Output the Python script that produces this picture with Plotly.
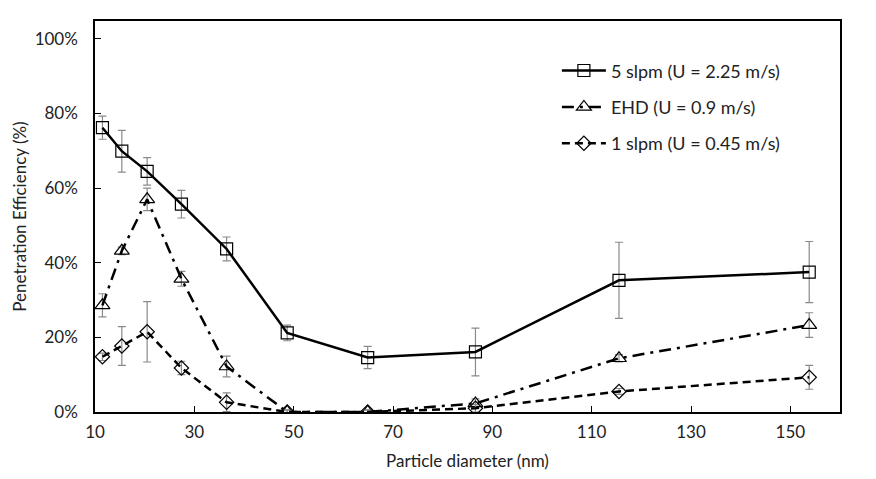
import plotly.graph_objects as go

# particle diameters (nm)
diameter = [11.5, 15.4, 20.5, 27.4, 36.5, 48.7, 64.9, 86.6, 115.5, 153.8]

# penetration efficiency (%) and error bars
pen_5slpm = [76.2, 69.9, 64.5, 55.7, 43.7, 21.2, 14.6, 16.1, 35.3, 37.5]
err_5slpm = [3.1, 5.6, 3.7, 3.7, 3.2, 2.1, 3.0, 6.4, 10.2, 8.2]

pen_ehd = [28.6, 43.2, 57.0, 35.7, 12.2, 0.0, 0.0, 2.3, 14.4, 23.3]
err_ehd = [3.1, 1.0, 3.0, 2.0, 2.8, 0.6, 0.6, 1.2, 1.0, 3.3]

pen_1slpm = [14.8, 17.7, 21.5, 11.8, 2.6, 0.0, 0.0, 1.0, 5.5, 9.3]
err_1slpm = [1.0, 5.2, 8.1, 1.8, 2.5, 0.5, 0.5, 1.0, 0.8, 3.2]

names = ["5 slpm (U = 2.25 m/s)", "EHD (U = 0.9 m/s)", "1 slpm (U = 0.45 m/s)"]
y_ticks = [0, 20, 40, 60, 80, 100]
y_labels = ["0%", "20%", "40%", "60%", "80%", "100%"]
x_ticks = [10, 30, 50, 70, 90, 110, 130, 150]

FONT = "Lato, Open Sans, sans-serif"

fig = go.Figure()

series = [
    (pen_5slpm, err_5slpm, names[0], "solid", "square-open", 12),
    (pen_ehd, err_ehd, names[1], "12px,6px,3px,6px", "triangle-up-open", 13),
    (pen_1slpm, err_1slpm, names[2], "8px,5px", "diamond-open", 11),
]

for i, (vals, errs, name, dash, symbol, size) in enumerate(series):
    fig.add_trace(
        go.Scatter(
            x=diameter,
            y=vals,
            name=name,
            legendgroup="g%d" % i,
            mode="lines+markers",
            line={"color": "black", "width": 2.5, "dash": dash},
            marker={"symbol": symbol, "size": size, "color": "black",
                    "line": {"width": 1.2, "color": "black"}},
            error_y={"type": "data", "array": errs, "visible": True,
                     "color": "#8a8a8a", "thickness": 1.2, "width": 4},
        )
    )

# page body has an 8px margin, so the figure is 8px smaller than the window
fig.update_layout(
    width=868,
    height=471,
    paper_bgcolor="white",
    plot_bgcolor="white",
    margin={"l": 84, "r": 36, "t": 11, "b": 66},
    font={"family": FONT, "size": 17, "color": "#222222"},
    legend={
        "x": 0.62, "y": 0.92, "xanchor": "left", "yanchor": "top",
        "bgcolor": "rgba(0,0,0,0)", "font": {"size": 18},
        "itemwidth": 44, "traceorder": "grouped", "tracegroupgap": 10,
    },
    showlegend=True,
)

fig.update_xaxes(
    range=[10, 160],
    tickvals=x_ticks,
    ticks="inside",
    ticklen=6,
    tickcolor="black",
    ticklabelstandoff=4,
    showline=True,
    linecolor="black",
    linewidth=1.5,
    mirror=True,
    showgrid=False,
    zeroline=False,
    title={"text": "Particle diameter (nm)", "font": {"size": 17}, "standoff": 14},
)

fig.update_yaxes(
    range=[0, 104.8],
    tickvals=y_ticks,
    ticktext=y_labels,
    ticks="inside",
    ticklen=6,
    tickcolor="black",
    ticklabelstandoff=12,
    showline=True,
    linecolor="black",
    linewidth=1.5,
    mirror=True,
    showgrid=False,
    zeroline=False,
    title={"text": "Penetration Efficiency (%)", "font": {"size": 17}, "standoff": 4},
)

fig.write_html("out.html")
